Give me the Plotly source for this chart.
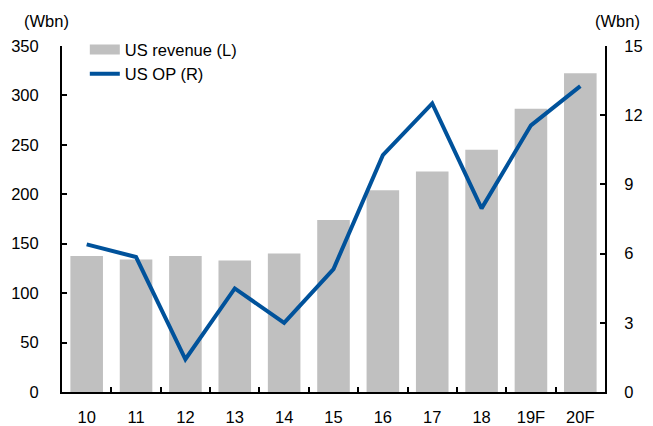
import plotly.graph_objects as go

categories = ["10", "11", "12", "13", "14", "15", "16", "17", "18", "19F", "20F"]
us_revenue = [137.5, 134, 137.5, 133, 140, 174, 204, 223, 245, 286.5, 322.5]
us_op = [6.4, 5.85, 1.42, 4.49, 3.0, 5.33, 10.27, 12.51, 7.96, 11.56, 13.26]
left_ticks = [0, 50, 100, 150, 200, 250, 300, 350]
right_ticks = [0, 3, 6, 9, 12, 15]

BAR_COLOR = "#c0c0c0"
LINE_COLOR = "#00529b"
FONT = "Liberation Sans, Arial, sans-serif"

fig = go.Figure()
fig.add_trace(go.Bar(x=categories, y=us_revenue, marker_color=BAR_COLOR,
                     marker_line_width=0, showlegend=False, name="US revenue (L)"))
# legend-only swatches
fig.add_trace(go.Scatter(x=[None], y=[None], mode="lines", name="US revenue (L)",
                         line=dict(color=BAR_COLOR, width=10)))
fig.add_trace(go.Scatter(x=categories, y=us_op, mode="lines", name="US OP (R)",
                         yaxis="y2", line=dict(color=LINE_COLOR, width=4)))

axis_common = dict(showgrid=False, zeroline=False, showline=True, linecolor="black",
                   linewidth=2, ticks="inside", ticklen=5, tickwidth=1.5, tickcolor="black",
                   automargin=False,
                   tickfont=dict(family=FONT, size=16.5, color="black"))

# page body has an 8px margin, so the figure is 8px smaller and shifted
fig.update_layout(
    width=645, height=418,
    margin=dict(l=54, r=48, t=38, b=34, autoexpand=False),
    plot_bgcolor="white", paper_bgcolor="white",
    bargap=0.34,
    font=dict(family=FONT, size=16.5, color="black"),
    xaxis=dict(**axis_common, type="category", tickson="boundaries", ticklabelstandoff=9),
    yaxis=dict(**axis_common, range=[0, 350], tickvals=left_ticks, ticklabelstandoff=18),
    yaxis2=dict(**axis_common, range=[0, 15], tickvals=right_ticks, overlaying="y",
                side="right", ticklabelstandoff=14),
    legend=dict(x=0.042, y=1.04, xanchor="left", yanchor="top", bgcolor="rgba(0,0,0,0)",
                font=dict(family=FONT, size=16.5), tracegroupgap=0),
    annotations=[
        dict(text="(Wbn)", xref="paper", yref="paper", x=-0.074, y=1.04, xanchor="left",
             yanchor="bottom", showarrow=False, font=dict(family=FONT, size=16.5)),
        dict(text="(Wbn)", xref="paper", yref="paper", x=1.068, y=1.04, xanchor="right",
             yanchor="bottom", showarrow=False, font=dict(family=FONT, size=16.5)),
    ],
)
fig.write_html("out.html")
